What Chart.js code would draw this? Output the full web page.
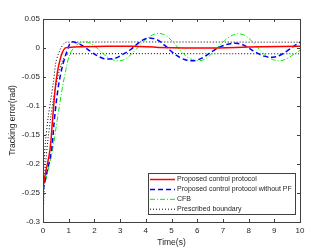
<!DOCTYPE html>
<html><head><meta charset="utf-8">
<script src="https://cdn.jsdelivr.net/npm/chart.js@4/dist/chart.umd.min.js"></script>
<style>html,body{margin:0;padding:0;background:#fff;}#wrap{width:332px;height:249px;}</style>
</head><body><div id="wrap"><canvas id="c" width="332" height="249"></canvas></div>
<script>
const seriesLabels = ['Proposed control protocol','Proposed control protocol without PF','CFB','Prescribed boundary'];
const yTickLabels = ['-0.3','-0.25','-0.2','-0.15','-0.1','-0.05','0','0.05'];
const xTickLabels = ['0','1','2','3','4','5','6','7','8','9','10'];

const tRed = [0,0.1,0.27,0.37,0.47,0.56,0.66,0.75,0.86,1.0,1.5,2.5,3.5,4.5,5.5,6.5,7.5,8.5,10];
const eRed = [-0.24,-0.215,-0.176,-0.125,-0.072,-0.042,-0.021,-0.008,0.0,0.001,0.002,0.003,0.003,0.001,0.0,0.0,0.001,0.002,0.003];

const tBlue = [0,0.15,0.33,0.45,0.58,0.7,0.82,0.95,1.1,1.35,1.6,1.85,2.1,2.35,2.6,2.85,3.1,3.4,3.7,3.95,4.2,4.45,4.75,5.05,5.35,5.6,5.82,6.05,6.35,6.65,6.95,7.25,7.5,7.75,8.0,8.3,8.6,8.94,9.2,9.5,9.75,10];
const eBlue = [-0.245,-0.215,-0.176,-0.12,-0.072,-0.042,-0.021,-0.004,0.01,0.008,0.002,-0.006,-0.013,-0.018,-0.019,-0.017,-0.011,-0.003,0.008,0.015,0.017,0.014,0.004,-0.008,-0.017,-0.021,-0.022,-0.02,-0.013,-0.004,0.003,0.007,0.008,0.006,0.0,-0.008,-0.014,-0.016,-0.013,-0.005,0.003,0.01];

const tGreen = [0,0.2,0.37,0.55,0.74,0.87,0.97,1.1,1.25,1.45,1.63,1.85,2.1,2.35,2.6,2.93,3.2,3.5,3.8,4.1,4.35,4.55,4.8,5.1,5.4,5.7,6.05,6.35,6.65,6.95,7.25,7.5,7.7,7.95,8.25,8.55,8.85,9.2,9.5,9.75,10];
const eGreen = [-0.245,-0.21,-0.176,-0.125,-0.072,-0.042,-0.021,-0.006,0.003,0.009,0.011,0.008,0.0,-0.01,-0.018,-0.022,-0.019,-0.008,0.006,0.018,0.024,0.025,0.021,0.008,-0.007,-0.018,-0.022,-0.018,-0.006,0.008,0.019,0.024,0.024,0.019,0.006,-0.008,-0.018,-0.022,-0.018,-0.011,-0.004];

const tUpper = [0,0.02,0.05,0.1,0.2,0.3,0.4,0.5,0.6,0.7,0.8,0.9,10];
const eUpper = [-0.3,-0.24,-0.19,-0.16,-0.12,-0.09,-0.06,-0.025,-0.01,0.0,0.007,0.01,0.01];
const tLower = [0,0.04,0.1,0.2,0.3,0.4,0.5,0.6,0.7,0.8,0.9,1.0,10];
const eLower = [-0.3,-0.25,-0.2,-0.155,-0.12,-0.09,-0.065,-0.045,-0.03,-0.018,-0.012,-0.01,-0.01];

const pts = (t,e) => t.map((v,i)=>({x:v,y:e[i]}));
const AX = '#404040';

const frame = {
  id:'frame',
  afterDatasetsDraw(chart){
    const ctx = chart.ctx, a = chart.chartArea;
    const xs = chart.scales.x, ys = chart.scales.y;
    ctx.save();
    ctx.strokeStyle = AX; ctx.lineWidth = 1;
    ctx.beginPath();
    const L = 3;
    xs.ticks.forEach(tk=>{
      const px = Math.round(xs.getPixelForValue(tk.value))+0.5;
      ctx.moveTo(px,a.bottom); ctx.lineTo(px,a.bottom-L);
      ctx.moveTo(px,a.top); ctx.lineTo(px,a.top+L);
    });
    ys.ticks.forEach(tk=>{
      const py = Math.round(ys.getPixelForValue(tk.value))+0.5;
      ctx.moveTo(a.left,py); ctx.lineTo(a.left+L,py);
      ctx.moveTo(a.right,py); ctx.lineTo(a.right-L,py);
    });
    ctx.stroke();
    ctx.strokeRect(Math.round(a.left)+0.5, Math.round(a.top)+0.5, Math.round(a.right-a.left), Math.round(a.bottom-a.top));
    // legend
    const w = 147, h = 41;
    const x0 = Math.round(a.right) - 5 - w, y0 = Math.round(a.bottom) - 8 - h;
    ctx.fillStyle = '#fff';
    ctx.fillRect(x0+0.5,y0+0.5,w,h);
    ctx.strokeRect(x0+0.5,y0+0.5,w,h);
    const ds = chart.data.datasets;
    ctx.font = '7px "Liberation Sans", Arial, sans-serif';
    ctx.textBaseline = 'middle';
    for (let i=0;i<4;i++){
      const d = ds[i];
      const yy = y0 + 6.5 + i*9.9;
      ctx.save();
      ctx.strokeStyle = d.borderColor; ctx.lineWidth = d.borderWidth;
      ctx.setLineDash(d.borderDash || []);
      ctx.beginPath(); ctx.moveTo(x0+2, yy); ctx.lineTo(x0+27, yy); ctx.stroke();
      ctx.restore();
      ctx.fillStyle = '#262626';
      ctx.fillText(seriesLabels[i], x0+29, yy);
    }
    ctx.restore();
  }
};

new Chart(document.getElementById('c'), {
  type:'line',
  data:{datasets:[
    {label:seriesLabels[0], data:pts(tRed,eRed), borderColor:'#ff0000', borderWidth:1.5, pointRadius:0, tension:0.4, fill:false},
    {label:seriesLabels[1], data:pts(tBlue,eBlue), borderColor:'#0000ff', borderWidth:1.5, borderDash:[5,3], pointRadius:0, tension:0.4, fill:false},
    {label:seriesLabels[2], data:pts(tGreen,eGreen), borderColor:'#00ee00', borderWidth:1, borderDash:[5,2,1,2], pointRadius:0, tension:0.4, fill:false},
    {label:seriesLabels[3], data:pts(tUpper,eUpper), borderColor:'#000000', borderWidth:1, borderDash:[1,2], pointRadius:0, tension:0.3, fill:false},
    {label:seriesLabels[3], data:pts(tLower,eLower), borderColor:'#000000', borderWidth:1, borderDash:[1,2], pointRadius:0, tension:0.3, fill:false}
  ]},
  options:{
    responsive:false, animation:false, devicePixelRatio:1,
    layout:{padding:{top:19,right:32,left:0,bottom:0}},
    plugins:{legend:{display:false}, tooltip:{enabled:false}},
    scales:{
      x:{type:'linear', min:0, max:10,
        afterFit(s){s.height=27;},
        grid:{display:false, drawTicks:false}, border:{display:false},
        ticks:{stepSize:1, padding:4, color:'#262626', maxRotation:0, autoSkip:false,
          font:{family:'"Liberation Sans", Arial, sans-serif', size:8},
          callback:(v,i)=>xTickLabels[i]},
        title:{display:true, text:'Time(s)', color:'#262626', padding:{top:0,bottom:1},
          font:{family:'"Liberation Sans", Arial, sans-serif', size:8.5}}
      },
      y:{type:'linear', min:-0.3, max:0.05,
        afterFit(s){s.width=43;},
        grid:{display:false, drawTicks:false}, border:{display:false},
        ticks:{stepSize:0.05, padding:3, color:'#262626', autoSkip:false,
          font:{family:'"Liberation Sans", Arial, sans-serif', size:8},
          callback:(v,i)=>yTickLabels[i]},
        title:{display:true, text:'Tracking error(rad)', color:'#262626', padding:{top:8,bottom:0},
          font:{family:'"Liberation Sans", Arial, sans-serif', size:8.5}}
      }
    }
  },
  plugins:[frame]
});
</script>
</body></html>
